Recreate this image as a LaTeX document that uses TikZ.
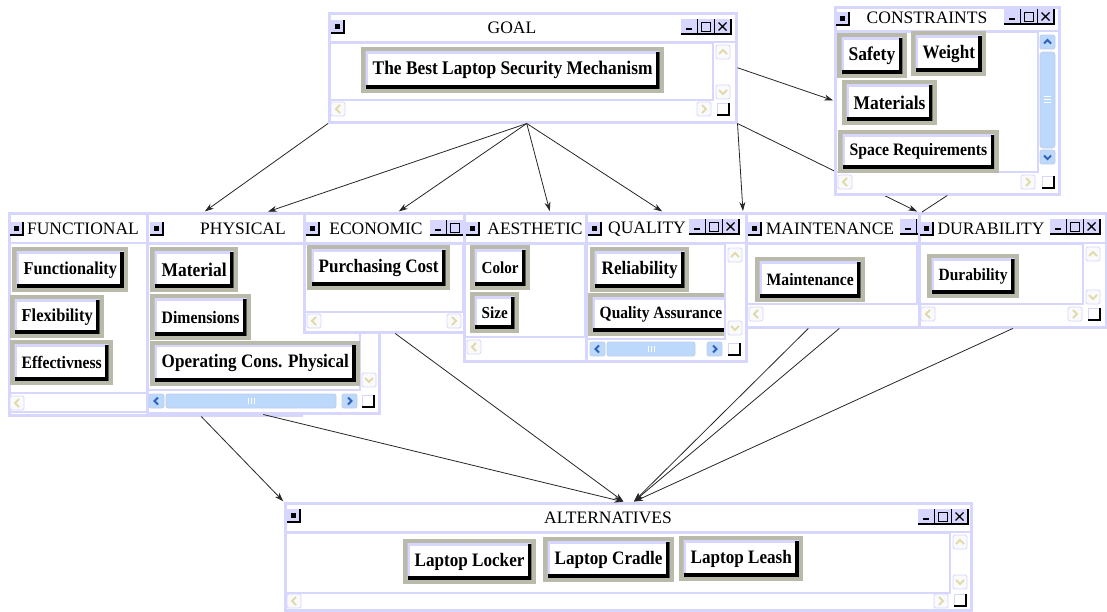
\documentclass[tikz,border=0pt]{standalone}
\usepackage{fontspec}
\setmainfont{Liberation Serif}
\newfontfamily\btnfont[FakeStretch=0.9]{Liberation Serif}
\usetikzlibrary{arrows.meta}
\definecolor{lav}{RGB}{214,214,255}
\definecolor{frameg}{RGB}{186,186,170}
\definecolor{sbblue}{RGB}{188,216,250}
\definecolor{glyphy}{RGB}{224,218,172}
\definecolor{glyphb}{RGB}{45,95,190}
\begin{document}
\begin{tikzpicture}[x=1pt,y=-1pt,
win/.style={draw=lav,line width=2.5pt,fill=white,anchor=north west,inner sep=0pt},
box/.style={draw=lav,line width=1.5pt},
ttl/.style={font=\fontsize{17.5}{20}\selectfont,inner sep=0pt},
btn/.style={anchor=north west,fill=white,inner xsep=7pt,inner ysep=0pt,minimum height=36pt,
 font=\btnfont\bfseries\fontsize{#1}{20}\selectfont,preaction={draw=frameg,line width=9pt},
 path picture={\draw[lav,line width=4pt] (path picture bounding box.south west) |- (path picture bounding box.north east);
 \draw[line width=7pt] (path picture bounding box.south west) -| (path picture bounding box.north east);}},
btn/.default=19,
link/.style={draw=black!85,line width=0.8pt,shorten >=1pt,-{Stealth[length=9pt,width=6pt]}},
pics/menu/.style={code={\draw[lav,fill=lav,line width=0.8pt] (0,0) rectangle (13,13);
 \fill (4,4) rectangle (9,9); \draw[line width=1.5pt] (0,13) -- (13,13) -- (13,0);}},
pics/ctl/.style={code={\fill[lav] (0,0) rectangle (50,15);
 \draw[line width=1.2pt] (0,15) -- (50,15) -- (50,0) (16.5,0) -- (16.5,15) (33.5,0) -- (33.5,15);
 \draw[line width=1.5pt] (5,10) -- (11,10);
 \draw[line width=1pt] (20.5,3.5) rectangle (29.5,12);
 \draw[line width=1.1pt] (37.5,3.5) -- (45.5,11.5) (37.5,11.5) -- (45.5,3.5);}},
pics/parr/.style={code={\draw[lav,fill=black!2,rounded corners=1.5pt,line width=0.8pt] (0,0) rectangle (14,14);
 \draw[glyphy,line width=2pt,shift={(7,7)},rotate=#1] (2,-4) -- (-2,0) -- (2,4);}},
pics/barr/.style={code={\draw[glyphb!30,fill=sbblue,rounded corners=2pt,line width=0.8pt] (0,0) rectangle (15,14);
 \draw[glyphb,line width=1.8pt,shift={(7.5,7)},rotate=#1] (1.5,-3.5) -- (-2,0) -- (1.5,3.5);}},
pics/thumb/.style={code={\draw[glyphb!30,fill=sbblue,rounded corners=2pt,line width=0.8pt] (0,0) rectangle (#1,14);
 \draw[white,line width=0.7pt] (#1/2-3,4) -- (#1/2-3,10) (#1/2,4) -- (#1/2,10) (#1/2+3,4) -- (#1/2+3,10);}},
pics/corner/.style={code={\draw[lav,line width=0.8pt] (0,0) rectangle (12,12);
 \draw[line width=1.5pt] (0,12) -- (12,12) -- (12,0);}}]
\useasboundingbox (0,0) rectangle (1107,611);

\node[win,minimum width=292pt,minimum height=202pt] (functional) at (8,212) {};
\draw[box] (8,243) -- (300,243) (10,393) rectangle (300,412);
\pic at (10,222) {menu};
\node[ttl] (functional-t) at (83,229) {FUNCTIONAL};
\node[btn=18.1] (functionality) at (16.5,251.5) {Functionality};
\node[btn=18.2,minimum height=34pt] (flexibility) at (14.5,299.5) {Flexibility};
\node[btn=17.4] (effectivness) at (14.5,344.5) {Effectivness};
\pic at (10,396) {parr=0};

\node[win,minimum width=232pt,minimum height=200pt] (physical) at (146,212) {};
\draw[box] (146,243) -- (378,243) (148,244) rectangle (360,390);
\pic at (150,222) {menu};
\node[ttl] (physical-t) at (243,229) {PHYSICAL};
\node[btn=19.4] (material) at (154.5,251.5) {Material};
\node[btn=17.5,minimum height=37pt] (dimensions) at (154.5,298.5) {Dimensions};
\node[btn] (operating) at (154.5,345) {Operating Cons. Physical};
\pic at (362,373) {parr=90};
\pic at (149,394) {barr=0}; \pic at (166,394) {thumb=170}; \pic at (342,394) {barr=180}; \pic at (362,395) {corner};

\node[win,minimum width=162pt,minimum height=119pt] (economic) at (303,212) {};
\draw[box] (303,243) -- (465,243) (305,244) rectangle (463,312);
\pic at (306,222) {menu};
\node[ttl] (economic-t) at (376,229) {ECONOMIC};
\pic at (430,220) {ctl};
\node[btn] (purchasing) at (311.5,249.5) {Purchasing Cost};
\pic at (307,314) {parr=0}; \pic at (447,314) {parr=180};

\node[win,minimum width=124pt,minimum height=148pt] (aesthetic) at (463,212) {};
\draw[box] (463,243) -- (587,243) (465,244) rectangle (585,337);
\pic at (466,222) {menu};
\node[ttl] (aesthetic-t) at (535,229) {AESTHETIC};
\node[btn=16.8] (color) at (474.5,249.5) {Color};
\node[btn=16.8,minimum height=32pt] (size) at (474.5,296.5) {Size};
\pic at (467,340) {parr=0};

\node[win,minimum width=160pt,minimum height=148pt] (quality) at (585,212) {};
\draw[box] (585,243) -- (745,243);
\pic at (588,222) {menu};
\node[ttl] (quality-t) at (647,229) {QUALITY};
\pic at (689,219) {ctl};
\node[btn] (reliability) at (594.5,251.5) {Reliability};
\node[btn=17.2,minimum height=34pt] (assurance) at (592.5,297.5) {Quality Assurance};
\fill[white] (725,244) rectangle (743.5,339);
\draw[box] (587,244) rectangle (725,339);
\pic at (728,248) {parr=-90}; \pic at (728,321) {parr=90};
\pic at (590,342) {barr=0}; \pic at (607,342) {thumb=88}; \pic at (707,342) {barr=180}; \pic at (728,343) {corner};

\node[win,minimum width=174pt,minimum height=114pt] (maintenance) at (745,212) {};
\draw[box] (745,243) -- (919,243) (747,244) rectangle (917,304);
\pic at (748,222) {menu};
\node[ttl] (maintenance-t) at (830,229) {MAINTENANCE};
\pic at (900,219) {ctl};
\node[btn=17.4] (maint) at (759.5,261.5) {Maintenance};
\pic at (749,307) {parr=0};

\node[win,minimum width=187pt,minimum height=114pt] (durability) at (918,212) {};
\draw[box] (918,243) -- (1105,243) (920,244) rectangle (1083,304);
\pic at (920,222) {menu};
\node[ttl] (durability-t) at (991,229) {DURABILITY};
\pic at (1050,219) {ctl};
\node[btn=17.2,minimum height=35pt] (durab) at (931.5,258.5) {Durability};
\pic at (1086,247) {parr=-90}; \pic at (1086,290) {parr=90};
\pic at (921,307) {parr=0}; \pic at (1068,307) {parr=180}; \pic at (1088,308) {corner};

\node[win,minimum width=407pt,minimum height=109pt] (goal) at (328,12) {};
\draw[box] (328,42) -- (735,42) (330,43) rectangle (713,100);
\pic at (331,20) {menu};
\node[ttl] (goal-t) at (512,28) {GOAL};
\pic at (681,19) {ctl};
\node[btn=19.3,minimum height=37pt] (best) at (365.5,51.5) {The Best Laptop Security Mechanism};
\pic at (716,45) {parr=-90}; \pic at (716,85) {parr=90};
\pic at (331,102) {parr=0}; \pic at (697,102) {parr=180}; \pic at (717,103) {corner};

\node[win,minimum width=686pt,minimum height=107pt] (alternatives) at (284,502) {};
\draw[box] (284,532) -- (970,532) (286,533) rectangle (950,593);
\pic at (287,509) {menu};
\node[ttl] (alternatives-t) at (608,518) {ALTERNATIVES};
\pic at (918,509) {ctl};
\node[btn] (locker) at (407.5,543.5) {Laptop Locker};
\node[btn] (cradle) at (547.5,541.5) {Laptop Cradle};
\node[btn] (leash) at (683.5,540.5) {Laptop Leash};
\pic at (953,535) {parr=-90}; \pic at (953,575) {parr=90};
\pic at (287,594) {parr=0}; \pic at (934,594) {parr=180}; \pic at (954,594) {corner};

\draw[link] (goal.south west) -- ([xshift=196pt]functional.north west);
\draw[link] ([xshift=-6pt]goal.south) -- ([xshift=121pt]physical.north west);
\draw[link] ([xshift=-6pt]goal.south) -- ([xshift=95pt]economic.north west);
\draw[link] ([xshift=-6pt]goal.south) -- ([xshift=87pt]aesthetic.north west);
\draw[link] ([xshift=-6pt]goal.south) -- ([xshift=78pt]quality.north west);
\draw[link] (goal.south east) -- ([xshift=-2pt]maintenance.north west);
\draw[link] (goal.south east) -- (durability.north west);
\draw[link] ([xshift=46pt]functional.south) -- (alternatives.north west);
\draw[link] (physical.south) -- ([xshift=-4pt]alternatives.north);
\draw[link] ([xshift=10pt]economic.south) -- ([xshift=-4pt]alternatives.north);
\draw[link] ([xshift=-25pt]maintenance.south) -- ([xshift=5pt]alternatives.north);
\draw[link] ([xshift=6pt]maintenance.south) -- ([xshift=5pt]alternatives.north);
\draw[link] (durability.south) -- ([xshift=5pt]alternatives.north);

\node[win,minimum width=224pt,minimum height=187pt] (constraints) at (834,6) {};
\draw[box] (834,31) -- (1058,31) (836,32) rectangle (1038,172);
\pic at (836,12) {menu};
\node[ttl] (constraints-t) at (927,18) {CONSTRAINTS};
\pic at (1004,9) {ctl};
\node[btn=19.4] (safety) at (841.5,37.5) {Safety};
\node[btn] (weight) at (915.5,35.5) {Weight};
\node[btn=19.4] (materials) at (846.5,84.5) {Materials};
\node[btn=17.5,minimum height=34pt] (space) at (842.5,134.5) {Space Requirements};
\pic at (1040,35) {barr=-90};
\draw[glyphb!30,fill=sbblue,rounded corners=3pt,line width=0.8pt] (1040,52) rectangle (1055,148);
\draw[white,line width=0.7pt] (1044,96) -- (1051,96) (1044,99) -- (1051,99) (1044,102) -- (1051,102);
\pic at (1040,150) {barr=90};
\pic at (838,175) {parr=0}; \pic at (1021,175) {parr=180}; \pic at (1042,176) {corner};
\draw[link] (goal.east) -- (constraints.west);
\draw[draw=black!85,line width=0.8pt] ([xshift=4pt]durability.north west) -- (constraints.south);
\end{tikzpicture}
\end{document}
